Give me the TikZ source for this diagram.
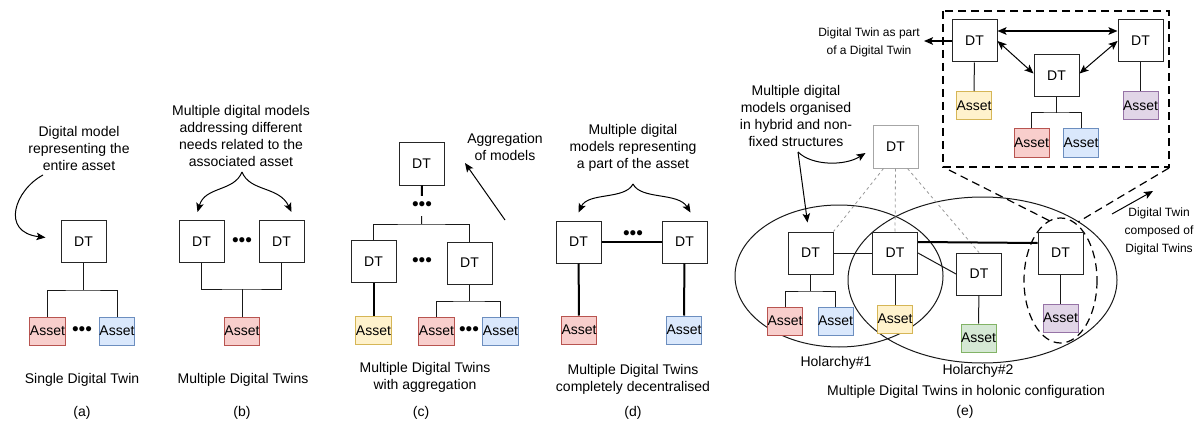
\documentclass[tikz,border=0pt]{standalone}
\usepackage{fontspec}
\setmainfont{Liberation Sans}
\usepackage{tikz}
\usetikzlibrary{arrows.meta}

\definecolor{redfill}{HTML}{F8CECC}
\definecolor{redline}{HTML}{B85450}
\definecolor{bluefill}{HTML}{DAE8FC}
\definecolor{blueline}{HTML}{6C8EBF}
\definecolor{yellowfill}{HTML}{FFF2CC}
\definecolor{yellowline}{HTML}{D6B656}
\definecolor{greenfill}{HTML}{D5E8D4}
\definecolor{greenline}{HTML}{82B366}
\definecolor{purplefill}{HTML}{E1D5E7}
\definecolor{purpleline}{HTML}{9673A6}

\begin{document}
\begin{tikzpicture}[x=1pt,y=-1pt,
	every node/.style={font=\fontsize{14}{17}\selectfont},
	dt/.style={draw=black!85,fill=white,line width=1pt,minimum width=45pt,minimum height=42pt,inner sep=0pt},
	asset/.style={line width=1pt,minimum width=35pt,minimum height=28pt,inner sep=0pt},
	redasset/.style={asset,draw=redline,fill=redfill},
	blueasset/.style={asset,draw=blueline,fill=bluefill},
	yellowasset/.style={asset,draw=yellowline,fill=yellowfill},
	greenasset/.style={asset,draw=greenline,fill=greenfill},
	purpleasset/.style={asset,draw=purpleline,fill=purplefill},
	txt/.style={align=center,inner sep=0pt},
	smalltxt/.style={align=center,inner sep=0pt,font=\fontsize{12}{18}\selectfont},
	ellip/.style={inner sep=0pt,minimum height=20pt,font=\fontsize{19}{19}\selectfont},
	link/.style={line width=1pt,draw=black!90},
	heavy/.style={line width=2pt},
	arr/.style={-{Stealth[length=9pt,width=7.5pt,inset=2pt]},line width=1pt},
	darr/.style={{Stealth[length=9pt,width=7.5pt,inset=2pt]}-{Stealth[length=9pt,width=7.5pt,inset=2pt]},line width=1pt},
	boxdash/.style={line width=1.2pt,dash pattern=on 8pt off 5pt},
	graydash/.style={line width=0.8pt,draw=black!40,dash pattern=on 3pt off 3pt}
	]
\useasboundingbox (0,0) rectangle (1199,425);

% (a) single digital twin
\node[txt] (txtA) at (79,148) {Digital model\\representing the\\entire asset};
\node[dt] (dtA) at (83.5,241.5) {DT};
\node[redasset] (assetA1) at (47.5,331) {Asset};
\node[blueasset] (assetA2) at (117,331) {Asset};
\node[ellip] (dotsA) at (82,331) {•••};
\coordinate (jA) at (83.5,290);
\draw[link] (dtA) -- (jA);
\draw[link] (assetA1.north) |- (jA) -| (assetA2.north);
\coordinate (aA) at (43,175);
\draw[arr] (aA) .. controls (15,190) and (0,232) .. ([xshift=-15pt,yshift=4pt]dtA.west);
\node (capA) at (82,380) {Single Digital Twin};
\node (labA) at (82,413) {(a)};

% (b) multiple digital twins
\node[txt] (txtB) at (241,136) {Multiple digital models\\addressing different\\needs related to the\\associated asset};
\node[dt] (dtB1) at (201.5,241.5) {DT};
\node[dt] (dtB2) at (281.5,241.5) {DT};
\node[ellip] (dotsB) at (242,242) {•••};
\node[redasset] (assetB) at (242,331) {Asset};
\coordinate (jB) at (242,289);
\draw[link] (dtB1.south) |- (jB) -| (dtB2.south);
\draw[link] (jB) -- (assetB);
\coordinate (bB) at (242,172);
\draw[arr] (bB) .. controls (234,192) and (205,186) .. ([xshift=-4pt,yshift=8pt]dtB1.north);
\draw[arr] (bB) .. controls (250,192) and (279,186) .. ([xshift=10pt,yshift=8pt]dtB2.north);
\node (capB) at (243,380) {Multiple Digital Twins};
\node (labB) at (242,413) {(b)};

% (c) aggregation
\node[dt] (dtC0) at (421.5,164) {DT};
\node[ellip] (dotsC0) at (422,206) {•••};
\coordinate (jC0) at (421.5,224);
\draw[heavy] (dtC0) -- (dotsC0);
\draw[link] (dotsC0) -- (jC0);
\node[dt] (dtC1) at (373.5,261.5) {DT};
\node[dt] (dtC2) at (469.5,263) {DT};
\draw[link] (dtC1.north) |- (jC0) -| (dtC2.north);
\node[ellip] (dotsC1) at (422,262) {•••};
\node[yellowasset] (assetC1) at (373.5,330.5) {Asset};
\draw[heavy] (dtC1) -- (assetC1);
\coordinate (jC1) at (469.5,301);
\draw[link] (dtC2) -- (jC1);
\node[redasset] (assetC2) at (436.5,331) {Asset};
\node[blueasset] (assetC3) at (500.5,331) {Asset};
\node[ellip] (dotsC2) at (469,331) {•••};
\draw[link] (assetC2.north) |- (jC1) -| (assetC3.north);
\node[txt] (txtC) at (505,147) {Aggregation\\of models};
\coordinate (aC1) at (505,220);
\coordinate (aC2) at (465,163);
\draw[arr] (aC1) -- (aC2);
\node[txt] (capC) at (425,377) {Multiple Digital Twins\\with aggregation};
\node (labC) at (421,413) {(c)};

% (d) decentralised
\node[txt] (txtD) at (633,148) {Multiple digital\\models representing\\a part of the asset};
\node[dt] (dtD1) at (578.5,242) {DT};
\node[dt] (dtD2) at (684.5,242) {DT};
\draw[heavy] (dtD1) -- (dtD2);
\node[ellip] (dotsD) at (633,235) {•••};
\node[redasset] (assetD1) at (579,330) {Asset};
\node[blueasset] (assetD2) at (684,330) {Asset};
\draw[heavy] (dtD1) -- (assetD1);
\draw[heavy] (dtD2) -- (assetD2);
\coordinate (bD) at (633,184);
\draw[arr] (bD) .. controls (625,200) and (588,192) .. ([yshift=8pt]dtD1.north);
\draw[arr] (bD) .. controls (641,200) and (678,192) .. ([xshift=6pt,yshift=8pt]dtD2.north);
\node[txt] (capD) at (633,379) {Multiple Digital Twins\\completely decentralised};
\node (labD) at (633,413) {(d)};

% (e) holonic
\draw[link] (839,276) ellipse [x radius=104,y radius=71];
\draw[link] (982.5,280) ellipse [x radius=134.5,y radius=83];
\draw[boxdash] (1060.5,280.5) ellipse [x radius=36.5,y radius=62.5];
\draw[boxdash] (943,11) rectangle (1169,167);
\draw[boxdash] (949,170) -- (1050,221);
\draw[boxdash] (1169,168) -- (1078,222);

\node[dt] (dtE1) at (974.5,41) {DT};
\node[dt] (dtE2) at (1140.5,41) {DT};
\node[dt] (dtE3) at (1056.5,75.5) {DT};
\node[yellowasset] (assetE1) at (974,105.5) {Asset};
\node[purpleasset] (assetE2) at (1140.5,105.5) {Asset};
\node[redasset] (assetE3) at (1031.5,143) {Asset};
\node[blueasset] (assetE4) at (1081,143) {Asset};
\draw[link] (dtE1) -- (assetE1);
\draw[link] (dtE2) -- (assetE2);
\coordinate (jE) at (1056.5,113);
\draw[link] (dtE3) -- (jE);
\draw[link] (assetE3.north) |- (jE) -| (assetE4.north);
\draw[darr,heavy] ([yshift=10pt]dtE1.east) -- ([yshift=10pt]dtE2.west);
\draw[darr] (dtE1.east) -- ([yshift=2pt]dtE3.west);
\draw[darr] ([yshift=2pt]dtE3.east) -- (dtE2.west);
\coordinate (aE1) at (924,41);
\draw[arr,heavy] (dtE1) -- (aE1);
\node[smalltxt] (txtE1) at (869,42) {Digital Twin as part\\of a Digital Twin};

\node[txt] (txtE2) at (796,116) {Multiple digital\\models organised\\in hybrid and non-\\fixed structures};
\node[dt,draw=black!35] (dtG) at (895.5,147) {DT};
\node[dt] (dtH1) at (810.5,253) {DT};
\node[dt] (dtH2) at (895,253) {DT};
\node[dt] (dtH3) at (979,274) {DT};
\node[dt] (dtH4) at (1060.5,253) {DT};
\coordinate (aE2) at (798,152);
\draw[arr] (aE2) .. controls (812,166) and (845,166) .. ([xshift=-7pt,yshift=-6pt]dtG.west);
\draw[arr] (aE2) -- ([xshift=-3pt,yshift=9pt]dtH1.north);
\draw[graydash] ([xshift=-12pt]dtG.south) -- (dtH1.north east);
\draw[graydash] (dtG.south) -- (dtH2.north);
\draw[graydash] ([xshift=12pt]dtG.south) -- (dtH3.north);

\node[redasset] (assetH1) at (785,321) {Asset};
\node[blueasset] (assetH2) at (835.5,321) {Asset};
\node[yellowasset] (assetH3) at (895,319) {Asset};
\node[greenasset] (assetH4) at (978.5,338) {Asset};
\node[purpleasset] (assetH5) at (1060.5,318) {Asset};
\coordinate (jH) at (810.5,291);
\draw[link] (dtH1) -- (jH);
\draw[link] (assetH1.north) |- (jH) -| (assetH2.north);
\draw[link] (dtH2) -- (assetH3);
\draw[link] (dtH3) -- (assetH4);
\draw[link] (dtH4) -- (assetH5);
\draw[link] (dtH1) -- (dtH2);
\draw[heavy] ([yshift=11pt]dtH2.east) -- ([yshift=10pt]dtH4.west);
\draw[link] (dtH2.east) -- (dtH3.west);

\coordinate (aE3) at (1112,214);
\coordinate (aE4) at (1153,191);
\draw[arr] (aE3) -- (aE4);
\node[smalltxt] (txtE3) at (1159,231) {Digital Twin\\composed of\\Digital Twins};
\node (holo1) at (836,363) {Holarchy\#1};
\node (holo2) at (978,371) {Holarchy\#2};
\node (capE) at (966,392) {Multiple Digital Twins in holonic configuration};
\node (labE) at (965,412) {(e)};

\end{tikzpicture}
\end{document}
